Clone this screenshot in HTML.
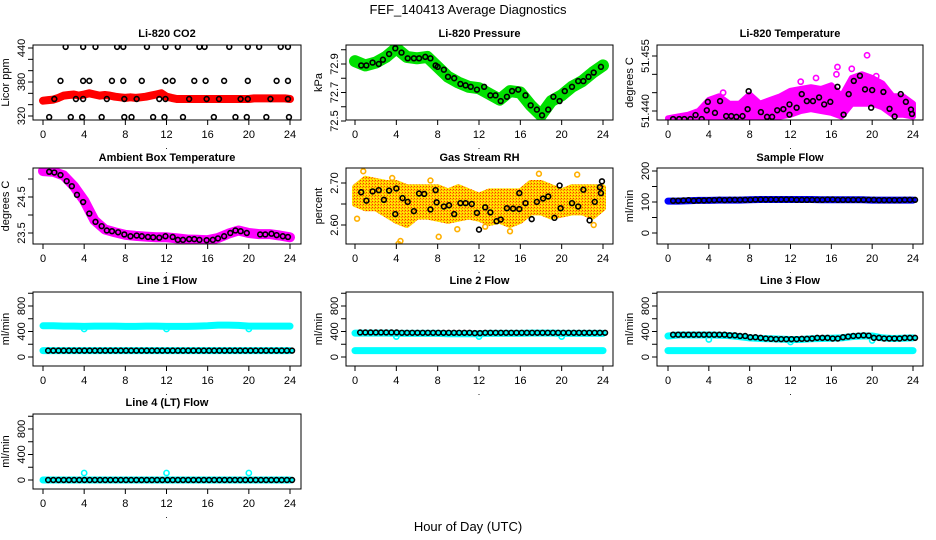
<!DOCTYPE html>
<html><head><meta charset="utf-8">
<style>
html,body{margin:0;padding:0;background:#fff;}
svg{display:block;font-family:"Liberation Sans",Arial,sans-serif;}
</style></head>
<body>
<svg id="chart" width="936" height="540" viewBox="0 0 936 540" xmlns="http://www.w3.org/2000/svg">
<defs>
<pattern id="rhpat" width="3" height="3" patternUnits="userSpaceOnUse">
<rect width="3" height="3" fill="#ffd000"/><rect width="1" height="1" fill="#ff3000"/><rect x="2" y="1" width="1" height="1" fill="#ff8000"/><rect x="1" y="2" width="1" height="1" fill="#ffff00"/>
</pattern>
</defs>
<text x="468" y="14" text-anchor="middle" font-size="13">FEF_140413  Average Diagnostics</text>
<text x="468" y="531" text-anchor="middle" font-size="13">Hour of Day (UTC)</text>
</svg>
<script>
// ---------- data ----------
const xTicks = [0,4,8,12,16,20,24];
const xTickLabels = ["0","4","8","12","16","20","24"];

const co2BlackT = [2.2,3.9,5.1,7.2,7.8,10.1,11.9,13.1,15.2,15.7,18.1,19.9,21.0,23.1,23.8,1.7,3.9,4.5,6.7,7.8,9.6,11.9,12.6,14.7,15.8,17.6,19.9,22.7,23.8,1.1,3.2,3.9,6.2,7.9,9.1,11.3,11.9,14.2,15.9,17.1,19.2,19.9,22.1,23.8,0.6,2.7,3.8,5.7,7.9,8.6,10.7,11.8,13.6,16.6,18.7,19.8,21.7,23.9];
const co2BlackV = [442,442,442,442,442,442,442,442,442,442,442,442,442,442,442,382,382,382,382,382,382,382,382,382,382,382,382,382,382,350,350,350,350,350,350,350,350,350,350,350,350,350,350,350,318,318,318,318,318,318,318,318,318,318,318,318,318,318];
const co2RedV = [347,348,349,352,356,357,358,356,358,360,358,356,357,356,354,353,352,353,352,353,354,356,358,360,354,352,350,350,350,350,350,350,350,350,350,350,350,350,350,350,350,351,351,351,351,351,351,351,350];
const co2Ticks = [320,340,360,380,400,420,440];
const co2Labels = ["320","","","380","","","440"];

const pressBlackT = [0.6,1.1,1.7,2.3,2.7,3.3,3.9,4.5,5.1,5.7,6.2,6.8,7.3,7.8,8.0,8.6,9.0,9.6,10.2,10.7,11.2,11.8,12.5,13.1,13.6,14.1,14.7,15.2,15.8,16.5,17.0,17.6,18.1,18.7,19.2,19.8,20.3,21.0,21.6,22.1,22.6,23.1,23.8];
const pressBlackV = [72.89,72.89,72.91,72.90,72.93,72.97,73.01,72.98,72.94,72.94,72.94,72.95,72.94,72.89,72.88,72.86,72.81,72.80,72.76,72.75,72.74,72.72,72.74,72.68,72.68,72.64,72.67,72.71,72.72,72.68,72.61,72.58,72.54,72.58,72.67,72.64,72.71,72.74,72.78,72.78,72.81,72.84,72.88];
const pressGreenV = [72.92,72.89,72.91,72.95,73.01,72.95,72.94,72.95,72.88,72.81,72.77,72.74,72.73,72.69,72.65,72.71,72.70,72.61,72.54,72.64,72.68,72.74,72.78,72.84,72.89];
const pressTicks = [72.5,72.6,72.7,72.8,72.9,73.0];
const pressLabels = ["72.5","","72.7","","72.9",""];

const tempBlackT = [0.5,1.1,1.6,2.2,2.7,3.3,3.8,3.9,4.6,5.1,5.7,6.2,6.7,7.3,7.8,7.9,9.1,9.7,10.2,10.7,11.3,11.9,11.9,12.6,13.1,13.6,14.2,14.8,15.3,15.9,16.6,17.2,17.7,18.2,18.8,19.3,19.9,20.0,21.1,21.7,22.2,22.8,23.3,23.8,23.9];
const tempBlackV = [51.4378,51.4378,51.4378,51.4378,51.4389,51.4378,51.4402,51.4425,51.4395,51.4427,51.4386,51.4386,51.4384,51.4386,51.4405,51.4454,51.4397,51.4384,51.4384,51.4402,51.4405,51.4418,51.4390,51.4409,51.4446,51.4427,51.4427,51.4437,51.4418,51.4425,51.4466,51.4390,51.4446,51.4482,51.4496,51.4459,51.4409,51.4457,51.4452,51.4406,51.4385,51.4446,51.4425,51.4404,51.4392];
const tempLowV = [51.4375,51.4375,51.4375,51.4378,51.4380,51.4380,51.4380,51.4380,51.4385,51.4380,51.4380,51.4385,51.4390,51.4400,51.4405,51.4400,51.4395,51.4385,51.4420,51.4420,51.4420,51.4410,51.4390,51.4390,51.4385];
const tempHighV = [51.4380,51.4385,51.4390,51.4400,51.4430,51.4440,51.4420,51.4420,51.4445,51.4420,51.4430,51.4440,51.4455,51.4460,51.4465,51.4460,51.4470,51.4440,51.4490,51.4500,51.4490,51.4475,51.4440,51.4440,51.4420];
const tempOutT = [19.5,16.6,18.0,14.5,13.0,5.4,16.5,20.4];
const tempOutV = [51.4552,51.4520,51.4515,51.4490,51.4480,51.4450,51.4500,51.4495];
const tempTicks = [51.440,51.445,51.450,51.455];
const tempLabels = ["51.440","","","51.455"];

const ambBlackT = [0.6,1.1,1.7,2.3,2.8,3.3,3.9,4.5,5.1,5.7,6.2,6.7,7.3,7.9,8.5,9.1,9.6,10.2,10.7,11.3,11.9,12.6,13.1,13.6,14.2,14.7,15.2,15.9,16.5,17.0,17.6,18.2,18.7,19.2,19.8,21.1,21.6,22.2,22.7,23.3,23.8];
const ambBlackV = [25.20,25.18,25.11,24.94,24.80,24.56,24.36,24.04,23.81,23.69,23.57,23.55,23.52,23.46,23.41,23.43,23.41,23.39,23.38,23.37,23.41,23.39,23.31,23.31,23.33,23.33,23.31,23.30,23.31,23.35,23.41,23.50,23.57,23.55,23.50,23.46,23.46,23.48,23.44,23.41,23.39];
const ambMagV = [25.22,25.20,25.10,24.80,24.40,23.85,23.60,23.52,23.45,23.42,23.40,23.38,23.38,23.35,23.32,23.31,23.30,23.36,23.48,23.57,23.50,23.47,23.47,23.43,23.38];
const ambTicks = [23.5,24.0,24.5,25.0];
const ambLabels = ["23.5","","24.5",""];

const rhBlackT = [0.6,1.1,1.7,2.3,2.8,3.3,3.9,4.0,4.6,5.1,5.7,6.2,6.7,7.3,7.8,7.9,8.6,9.1,9.6,10.2,10.7,11.3,11.8,12.0,12.6,13.1,13.7,14.1,14.7,15.3,15.9,15.9,16.5,17.1,17.6,18.2,18.7,19.3,19.8,19.9,21.0,21.6,22.1,22.7,23.2,23.7,23.9,23.8];
const rhBlackV = [2.678,2.658,2.680,2.683,2.660,2.682,2.626,2.687,2.664,2.655,2.633,2.675,2.674,2.637,2.683,2.654,2.644,2.647,2.626,2.652,2.652,2.650,2.629,2.589,2.642,2.630,2.609,2.613,2.640,2.639,2.676,2.638,2.652,2.614,2.655,2.663,2.668,2.617,2.694,2.640,2.652,2.644,2.684,2.611,2.655,2.690,2.704,2.676];
const rhLowV = [2.650,2.640,2.640,2.625,2.610,2.600,2.620,2.620,2.615,2.610,2.615,2.620,2.615,2.605,2.610,2.600,2.610,2.630,2.630,2.620,2.625,2.630,2.630,2.620,2.640];
const rhHighV = [2.690,2.710,2.705,2.700,2.700,2.690,2.690,2.690,2.690,2.680,2.690,2.680,2.670,2.680,2.680,2.680,2.680,2.700,2.700,2.690,2.680,2.690,2.690,2.690,2.690];
const rhOutT = [0.2,4.4,4.2,8.1,15.0,21.5,17.8,0.8,9.9,23.1,7.3,3.6,12.6];
const rhOutV = [2.615,2.562,2.555,2.572,2.585,2.720,2.722,2.728,2.590,2.600,2.706,2.712,2.596];
const rhTicks = [2.60,2.65,2.70];
const rhLabels = ["2.60","","2.70"];

const sfBlueV = [103,103,104,105,105,106,106,106,107,108,108,108,108,108,108,107,107,107,107,107,106,106,106,106,106];
const sfBlackV = [104,104,105,106,104,105,105,106,106,107,106,107,107,107,107,107,108,108,108,108,108,108,108,108,107,107,107,107,107,107,108,108,107,107,107,107,107,107,107,107,106,106,106,106,106,107,107,107];
const sfTicks = [0,50,100,150,200];
const sfLabels = ["0","","100","","200"];

const flowTicks = [0,200,400,600,800,1000];
const flowLabels = ["0","","400","","800",""];
const dipT = [4,12,20];

const l1CyanTopV = [490,490,485,485,480,485,485,485,480,480,485,485,480,480,480,485,490,500,500,495,485,485,485,485,485];
const l1CyanLowV = [100,100,100,100,100,100,100,100,100,100,100,100,100,100,100,100,100,100,100,100,100,100,100,100,100];
const l1DipV = [440,440,440];
const l1BlackV = [100,100,100,100,100,100,100,100,100,100,100,100,100,100,100,100,100,100,100,100,100,100,100,100,100,100,100,100,100,100,100,100,100,100,100,100,100,100,100,100,100,100,100,100,100,100,100,100];

const l2CyanTopV = [375,375,375,375,370,370,370,370,370,365,365,365,365,370,370,370,370,375,375,375,370,370,370,370,370];
const l2CyanLowV = [100,100,100,100,100,100,100,100,100,100,100,100,100,100,100,100,100,100,100,100,100,100,100,100,100];
const l2DipV = [320,320,320];
const l2BlackV = [385,385,385,385,385,385,385,385,380,380,380,380,380,380,380,380,380,380,380,380,380,380,375,375,380,380,380,380,380,380,380,380,380,380,380,380,380,380,380,380,380,380,380,380,380,380,380,380];

const l3CyanTopV = [330,345,345,345,345,340,335,320,300,290,285,280,275,275,285,290,295,300,320,330,330,300,290,295,300];
const l3CyanLowV = [100,100,100,100,100,100,100,100,100,100,100,100,100,100,100,100,100,100,100,100,100,100,100,100,100];
const l3DipV = [275,235,260];
const l3BlackV = [350,350,350,350,350,350,350,350,350,350,350,340,340,330,330,310,310,300,290,285,280,280,280,280,280,285,285,290,300,300,300,290,290,310,320,330,335,340,335,300,300,290,290,290,290,300,300,300];

const l4CyanTopV = [0,0,0,0,0,0,0,0,0,0,0,0,0,0,0,0,0,0,0,0,0,0,0,0,0];
const l4DipV = [110,110,110];
const l4BlackV = [0,0,0,0,0,0,0,0,0,0,0,0,0,0,0,0,0,0,0,0,0,0,0,0,0,0,0,0,0,0,0,0,0,0,0,0,0,0,0,0,0,0,0,0,0,0,0,0];

// ---------- drawing ----------
const svg = document.getElementById('chart');
const NS = 'http://www.w3.org/2000/svg';
function mk(tag, attrs, parent){
  const e = document.createElementNS(NS, tag);
  for (const k in attrs) e.setAttribute(k, attrs[k]);
  (parent||svg).appendChild(e);
  return e;
}
const cols = [{b0:33,b1:301,t0:43,t24:290},{b0:346,b1:613,t0:355,t24:603},{b0:657,b1:923,t0:668,t24:913}];
const rows = [{b0:45,b1:120,title:33},{b0:168,b1:244,title:157},{b0:292,b1:366,title:280},{b0:414,b1:489,title:402}];

function panel(name, title, c, r, ylab, v1, p1, v2, p2, ticks, labels){
  const C = cols[c], R = rows[r];
  const g = mk('g', {});
  
  
  const xs = t => C.t0 + t*(C.t24 - C.t0)/24;
  const ys = v => p1 + (v - v1)*(p2 - p1)/(v2 - v1);
  const tt = mk('text', {x:(C.b0+C.b1)/2, y:R.title+4, 'text-anchor':'middle', 'font-size':11, 'font-weight':'bold'}, g);
  tt.textContent = title;
  
  
  const yt = mk('text', {x:0, y:0, 'text-anchor':'middle', 'font-size':11, transform:`translate(${C.b0-24},${(R.b0+R.b1)/2}) rotate(-90)`}, g);
  yt.textContent = ylab;
  
  
  ticks.forEach((v, i) => {
    const y = ys(v);
    mk('line', {x1:C.b0-5, x2:C.b0, y1:y, y2:y, stroke:'#000', 'stroke-width':1}, g);
    if (labels[i]) {
      const lt = mk('text', {x:0, y:0, 'text-anchor':'middle', 'font-size':11, transform:`translate(${C.b0-8},${y}) rotate(-90)`}, g);
      lt.textContent = labels[i];
      
      
    }
  });
  xTicks.forEach((t, i) => {
    const x = xs(t);
    mk('line', {x1:x, x2:x, y1:R.b1, y2:R.b1+5, stroke:'#000', 'stroke-width':1}, g);
    const lt = mk('text', {x:x, y:R.b1+18, 'text-anchor':'middle', 'font-size':11}, g);
    lt.textContent = xTickLabels[i];
    
    
  });
  const dot = mk('text', {x:(C.t0+C.t24)/2, y:R.b1+29, 'text-anchor':'middle', 'font-size':9}, g);
  dot.textContent = '.';
  const clipId = 'clip-' + name;
  const cp = mk('clipPath', {id:clipId}, g);
  mk('rect', {x:C.b0, y:R.b0, width:C.b1-C.b0, height:R.b1-R.b0}, cp);
  const plot = mk('g', {'clip-path':`url(#${clipId})`}, g);
  const box = mk('rect', {x:C.b0, y:R.b0, width:C.b1-C.b0, height:R.b1-R.b0, fill:'none', stroke:'#000', 'stroke-width':1}, g);
  
  
  return {xs, ys, plot, name};
}
function band(P, vals, color, width, label){
  const n = vals.length;
  const pts = vals.map((v, i) => P.xs(i*24/(n-1)).toFixed(1) + ',' + P.ys(v).toFixed(1)).join(' ');
  const e = mk('polyline', {points:pts, fill:'none', stroke:color, 'stroke-width':width, 'stroke-linejoin':'round', 'stroke-linecap':'round'}, P.plot);
  
  
}
function envelope(P, lo, hi, fill, label){
  const n = lo.length;
  const up = hi.map((v, i) => P.xs(i*24/(n-1)).toFixed(1) + ',' + P.ys(v).toFixed(1));
  const dn = lo.map((v, i) => P.xs(i*24/(n-1)).toFixed(1) + ',' + P.ys(v).toFixed(1)).reverse();
  const e = mk('polygon', {points:up.concat(dn).join(' '), fill:fill, stroke:fill, 'stroke-width':6, 'stroke-linejoin':'round'}, P.plot);
  
  
}
function points(P, ts, vs, color, r, label){
  const g = mk('g', {}, P.plot);
  
  
  vs.forEach((v, i) => {
    const c = mk('circle', {cx:P.xs(ts[i]), cy:P.ys(v), r:r, fill:'none', stroke:color, 'stroke-width':1.6}, g);
    
    
  });
}
function halfHours(vals){ return vals.map((v, i) => 0.5 + i*0.5*47.4/47); }

let P = panel('co2', 'Li-820 CO2', 0, 0, 'Licor ppm', 320, 116, 440, 48, co2Ticks, co2Labels);
band(P, co2RedV, '#ff0000', 8, 'red-series');
points(P, co2BlackT, co2BlackV, '#000', 2.4, 'black-series');

P = panel('pressure', 'Li-820 Pressure', 1, 0, 'kPa', 72.5, 121, 72.9, 64, pressTicks, pressLabels);
band(P, pressGreenV, '#00e000', 12, 'green-series');
points(P, pressBlackT, pressBlackV, '#000', 2.4, 'black-series');

P = panel('temperature', 'Li-820 Temperature', 2, 0, 'degrees C', 51.440, 111, 51.455, 56, tempTicks, tempLabels);
envelope(P, tempLowV, tempHighV, '#ff00ff', 'magenta-series');
points(P, tempOutT, tempOutV, '#ff00ff', 2.6, 'magenta-outliers');
points(P, tempBlackT, tempBlackV, '#000', 2.4, 'black-series');

P = panel('ambient', 'Ambient Box Temperature', 0, 1, 'degrees C', 23.5, 233, 24.5, 197, ambTicks, ambLabels);
band(P, ambMagV, '#ff00ff', 10, 'magenta-series');
points(P, ambBlackT, ambBlackV, '#000', 2.4, 'black-series');

P = panel('rh', 'Gas Stream RH', 1, 1, 'percent', 2.60, 225, 2.70, 183, rhTicks, rhLabels);
envelope(P, rhLowV, rhHighV, 'url(#rhpat)', 'orange-series');
points(P, rhOutT, rhOutV, '#ffb000', 2.4, 'orange-outliers');
points(P, rhBlackT, rhBlackV, '#000', 2.4, 'black-series');

P = panel('sample-flow', 'Sample Flow', 2, 1, 'ml/min', 0, 233, 200, 171, sfTicks, sfLabels);
band(P, sfBlueV, '#0000ff', 7, 'blue-series');
points(P, halfHours(sfBlackV), sfBlackV, '#000', 2.4, 'black-series');

function flowPanel(name, title, c, r, top, low, dip, black){
  const P = panel(name, title, c, r, 'ml/min', 0, 357 + (r===3?123:0), 800, 306 + (r===3?123:0), flowTicks, flowLabels);
  band(P, top, '#00ffff', 7, 'cyan-upper-series');
  if (low) band(P, low, '#00ffff', 7, 'cyan-lower-series');
  points(P, dipT, dip, '#00ffff', 2.6, 'cyan-dips');
  points(P, halfHours(black), black, '#000', 2.4, 'black-series');
}
flowPanel('line1-flow', 'Line 1 Flow', 0, 2, l1CyanTopV, l1CyanLowV, l1DipV, l1BlackV);
flowPanel('line2-flow', 'Line 2 Flow', 1, 2, l2CyanTopV, l2CyanLowV, l2DipV, l2BlackV);
flowPanel('line3-flow', 'Line 3 Flow', 2, 2, l3CyanTopV, l3CyanLowV, l3DipV, l3BlackV);
flowPanel('line4-flow', 'Line 4 (LT) Flow', 0, 3, l4CyanTopV, null, l4DipV, l4BlackV);
</script>
</body></html>
